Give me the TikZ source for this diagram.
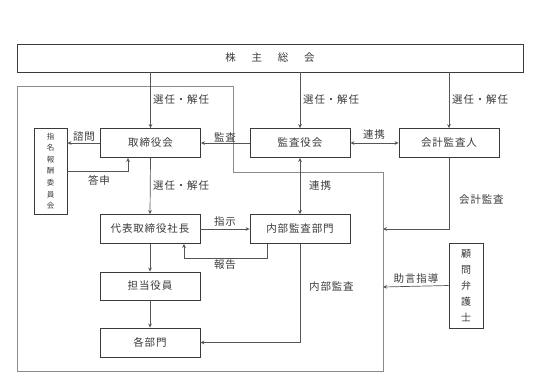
\documentclass[tikz,border=0pt]{standalone}
\usepackage{fontspec}
\newfontfamily\jpfont[LetterSpace=8]{Noto Sans CJK JP}
\usetikzlibrary{arrows.meta,positioning,calc}
\definecolor{inkgray}{HTML}{3A3A3A}
\definecolor{linegray}{HTML}{555555}
\definecolor{framegray}{HTML}{8A8A8A}

\begin{document}
\begin{tikzpicture}[
    x=1pt, y=-1pt,
    font=\jpfont\fontsize{10.5}{12}\selectfont,
    >={Stealth[length=4pt,width=3.6pt]},
    box/.style={draw=inkgray, line width=0.8pt, minimum width=100pt, minimum height=29pt, inner sep=0pt, text=inkgray},
    vbox/.style={box, minimum width=33pt, align=center},
    link/.style={draw=linegray, line width=0.7pt},
    tag/.style={text=inkgray, inner sep=1pt},
]
    \useasboundingbox (0,0) rectangle (533,386);

    % --- Company frame ---
    \draw[framegray, line width=0.8pt] (17,86) -- (233,86) -- (233,172) -- (383,172) -- (383,371) -- (17,371) -- cycle;
    \coordinate (frameacc) at (383,229);
    \coordinate (framelaw) at (383,287);

    % --- Boxes ---
    \node[box, minimum width=506pt, minimum height=28pt] (meeting) at (270,58) {株\hspace{1.5em}主\hspace{1.5em}総\hspace{1.5em}会};
    \node[box] (board) at (150.5,143) {取締役会};
    \node[box] (auditors) at (300,143) {監査役会};
    \node[box] (accountant) at (449,143) {会計監査人};
    \node[vbox, minimum height=86pt, font=\jpfont\fontsize{7.5}{11.6}\selectfont] (committee) at (50.5,171) {指\\名\\報\\酬\\委\\員\\会};
    \node[box] (president) at (150,229) {代表取締役社長};
    \node[box] (internal) at (300,229) {内部監査部門};
    \node[box, minimum height=28pt] (officer) at (150,286) {担当役員};
    \node[box] (depts) at (150,342.5) {各部門};
    \node[vbox, minimum width=34pt, minimum height=85pt, font=\jpfont\fontsize{10}{16}\selectfont] (lawyer) at (466,285.5) {顧\\問\\弁\\護\\士};

    % --- Shareholders' meeting ---
    \draw[link, ->] (meeting.south -| board.north) -- (board.north);
    \node[tag, anchor=west] at (152,100) {選任・解任};
    \draw[link, ->] (meeting.south -| auditors.north) -- (auditors.north);
    \node[tag, anchor=west] at (302,100) {選任・解任};
    \draw[link, ->] (meeting.south -| accountant.north) -- (accountant.north);
    \node[tag, anchor=west] at (451,100) {選任・解任};

    % --- Board level ---
    \draw[link, ->] (board.west) -- (board.west -| committee.east);
    \node[tag, anchor=south] at (84,143) {諮問};
    \draw[link, ->] (committee.east) -| ($(board.south)+(-22.5,0)$);
    \node[tag] at (99,180) {答申};
    \draw[link, ->] (auditors.west) -- (auditors.west -| board.east);
    \node[tag, anchor=south] at (225,143) {監査};
    \draw[link, <->] (auditors.east) -- (accountant.west);
    \node[tag, anchor=south] at (374,141) {連携};
    \draw[link, <->] (auditors.south) -- (internal.north);
    \node[tag, anchor=west] at (308,186) {連携};
    \draw[link, ->] (accountant.south) |- (frameacc);
    \node[tag, anchor=west] at (458,200) {会計監査};

    % --- Execution ---
    \draw[link, ->] (board.south) -- (president.north);
    \node[tag, anchor=west] at (152,186) {選任・解任};
    \draw[link, ->] (president.east) -- (internal.west);
    \node[tag, anchor=south] at (225,228) {指示};
    \draw[link, ->] ($(internal.south)+(-33,0)$) -- ++(0,14) -| ($(president.south)+(34,0)$);
    \node[tag] at (225,265) {報告};
    \draw[link, ->] (president.south) -- (officer.north);
    \draw[link, ->] (officer.south) -- (depts.north);
    \draw[link, ->] (internal.south) |- (depts.east);
    \node[tag, anchor=west] at (308,287) {内部監査};

    % --- Legal advice ---
    \draw[link, ->] (lawyer.west) -- (framelaw);
    \node[tag, anchor=south] at (416,285) {助言指導};

\end{tikzpicture}
\end{document}
